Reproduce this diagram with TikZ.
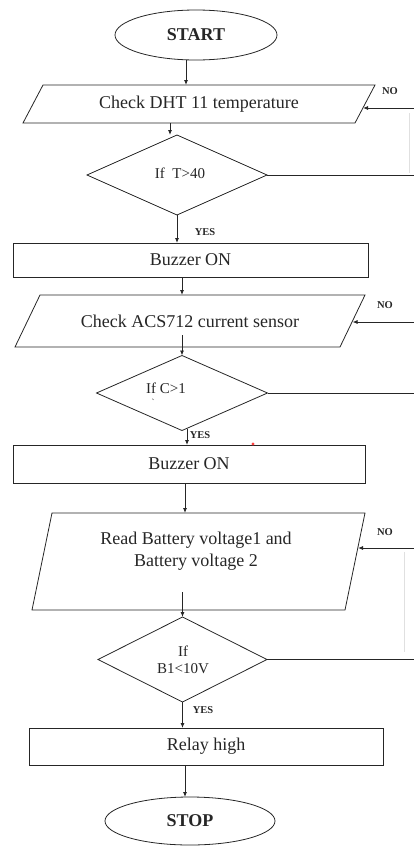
\documentclass[tikz,border=0pt]{standalone}
\usepackage{fontspec}
\setmainfont{Liberation Serif}
\usetikzlibrary{shapes.geometric,arrows.meta,calc}
\newcommand\parashape[2]{\draw ([xshift=-#2]#1.south west) -- ([xshift=#2]#1.north west) -- ([xshift=#2]#1.north east) -- ([xshift=-#2]#1.south east) -- cycle;}
\begin{document}
\begin{tikzpicture}[x=1pt,y=-1pt,
  line width=0.8pt, color=black!85,
  every node/.style={inner sep=0pt, outer sep=0pt, text=black!85},
  term/.style={draw, ellipse, font=\fontsize{18}{20}\selectfont\bfseries},
  io/.style={rectangle, font=\fontsize{18}{21}\selectfont, align=center},
  proc/.style={draw, rectangle, font=\fontsize{18}{20}\selectfont},
  dec/.style={draw, diamond},
  dtext/.style={font=\fontsize{15}{17}\selectfont, align=center},
  lbl/.style={font=\fontsize{10.5}{12}\selectfont\bfseries},
  arr/.style={-{Latex[length=5pt,width=4pt]}},
  faint/.style={draw=black!12, line width=0.6pt},
]
\useasboundingbox (0,0) rectangle (414,846);

% nodes
\node[term, minimum width=162pt, minimum height=50pt] (start) at (196,35) {START};
\node[io, minimum width=332pt, minimum height=38pt] (p1) at (199,104) {Check DHT 11 temperature};
\parashape{p1}{10pt}
\node[dec, minimum width=180pt, minimum height=80pt] (d1) at (177,175) {};
\node[dtext] (d1t) at (180,173) {If~~T>40};
\node[proc, minimum width=355pt, minimum height=34pt] (b1) at (190.5,260) {Buzzer ON};
\node[io, minimum width=325pt, minimum height=52pt] (p2) at (190,321) {Check ACS712 current sensor};
\parashape{p2}{12.5pt}
\node[dec, minimum width=171pt, minimum height=75pt] (d2) at (182,393) {};
\node[dtext] (d2t) at (166,388) {If C>1};
\node[font=\fontsize{9}{10}\selectfont] (d2m) at (153,402) {\textasciigrave};
\node[proc, minimum width=352pt, minimum height=38pt] (b2) at (189,464) {Buzzer ON};
\node[io, minimum width=313pt, minimum height=97pt] (p3) at (198.5,561.5) {};
\parashape{p3}{10pt}
\node[font=\fontsize{18}{22}\selectfont, align=center] (p3t) at (196,551)
      {Read Battery voltage1 and\\Battery voltage 2};
\node[dec, minimum width=169pt, minimum height=85pt] (d3) at (182.5,659.5) {};
\node[dtext] (d3t) at (183,660) {If\\B1<10V};
\node[proc, minimum width=354pt, minimum height=37pt] (b3) at (206,746.5) {Relay high};
\node[term, minimum width=170pt, minimum height=48pt] (stop) at (190,821) {STOP};

% labels
\node[lbl] (no1) at (390,91) {NO};
\node[lbl] (no2) at (385,305) {NO};
\node[lbl] (no3) at (385,532) {NO};
\node[lbl] (yes1) at (205,232) {YES};
\node[lbl] (yes2) at (200,435) {YES};
\node[lbl] (yes3) at (203,710) {YES};

% main flow
\draw[arr] ([xshift=-10pt]start.south) -- ([xshift=-10pt]start.south |- p1.north);
\draw[arr] ([xshift=-29pt]p1.south) -- ([xshift=-29pt]p1.south |- d1.north);
\draw[arr] (d1.south) -- (d1.south |- b1.north);
\draw[arr] ([xshift=-8.5pt]b1.south) -- ([xshift=-8.5pt]b1.south |- p2.north);
\draw[arr] ($(d2.north |- p2.south)+(0,-12)$) -- (d2.north);
\draw[arr] ([xshift=5pt,yshift=2pt]d2.south) -- ([xshift=5pt]d2.south |- b2.north);
\draw[arr] ([xshift=-4pt]b2.south) -- ([xshift=-4pt]b2.south |- p3.north);
\draw[arr] ($(d3.north |- p3.south)+(0,-18)$) -- (d3.north);
\draw[arr] (d3.south) -- (d3.south |- b3.north);
\draw[arr] ([xshift=-21pt]b3.south) -- ([xshift=-21pt]b3.south |- stop.north);

% NO loops (cut at the right edge)
\coordinate (n1) at (414,108);
\coordinate (n2) at (414,322);
\coordinate (n3) at (414,548);
\draw (d1.east) -- (d1.east -| n1);
\draw (d2.east) -- (d2.east -| n2);
\draw (d3.east) -- (d3.east -| n3);
\draw[arr] (n1) -- ([xshift=-2pt]n1 -| p1.east);
\draw[arr] (n2) -- ([xshift=-0pt]n2 -| p2.east);
\draw[arr] (n3) -- ([xshift=3pt]n3 -| p3.east);
\draw[faint] (409,113) -- (409,173);
\draw[faint] (404,552) -- (404,652);

% stray mark
\fill[red!75] (253,444) circle (1.6pt);
\end{tikzpicture}
\end{document}
